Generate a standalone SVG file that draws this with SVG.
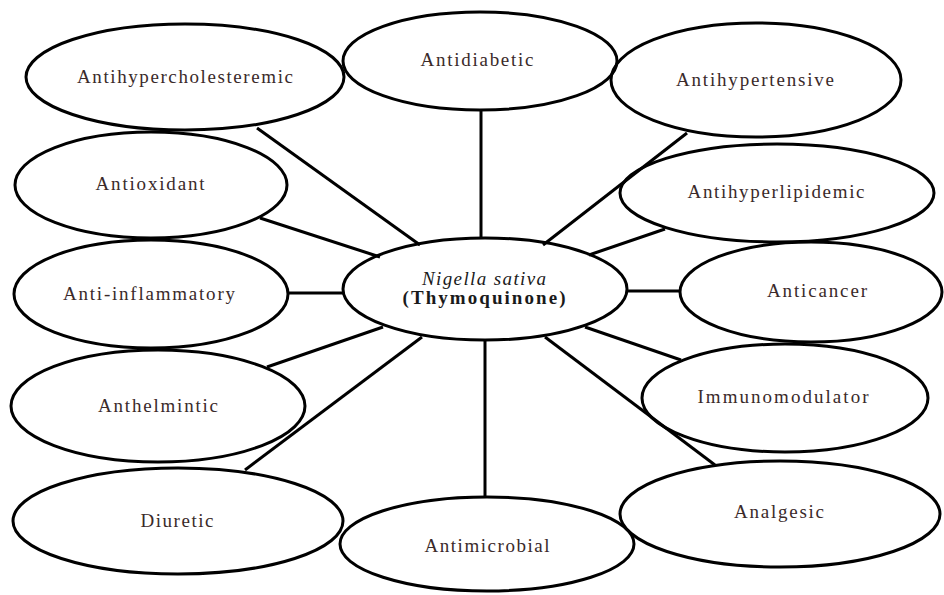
<svg xmlns="http://www.w3.org/2000/svg" width="944" height="595" viewBox="0 0 944 595">
<style>
.node ellipse{fill:none;stroke:#000;stroke-width:3}
.node text{font-family:"Liberation Serif","Times New Roman",serif;font-size:19px;fill:#3a2a2a;text-anchor:middle}
.conn line{stroke:#000;stroke-width:3;stroke-linecap:butt}
.center text{fill:#1a1a1a}
</style>
<rect width="944" height="595" fill="#fff"/>
<g id="n-antihypercholesteremic" class="node"><ellipse cx="185" cy="77" rx="159" ry="53"/><text x="185" y="83" textLength="216" lengthAdjust="spacing">Antihypercholesteremic</text></g>
<g id="n-antidiabetic" class="node"><ellipse cx="480" cy="61" rx="137" ry="49"/><text x="477" y="66" textLength="113" lengthAdjust="spacing">Antidiabetic</text></g>
<g id="n-antihypertensive" class="node"><ellipse cx="756" cy="80" rx="145" ry="57"/><text x="755" y="86" textLength="158" lengthAdjust="spacing">Antihypertensive</text></g>
<g id="n-antioxidant" class="node"><ellipse cx="151" cy="185" rx="136" ry="53"/><text x="150" y="190" textLength="109" lengthAdjust="spacing">Antioxidant</text></g>
<g id="n-antihyperlipidemic" class="node"><ellipse cx="777" cy="193" rx="157" ry="49"/><text x="776" y="198" textLength="177" lengthAdjust="spacing">Antihyperlipidemic</text></g>
<g id="n-antiinflammatory" class="node"><ellipse cx="151" cy="294" rx="137" ry="54"/><text x="149" y="300" textLength="172" lengthAdjust="spacing">Anti-inflammatory</text></g>
<g id="n-center" class="node center"><ellipse cx="485" cy="289" rx="142" ry="51"/><text x="484" y="285" font-style="italic" textLength="124" lengthAdjust="spacing">Nigella sativa</text><text x="484" y="304" font-weight="bold" textLength="163" lengthAdjust="spacing">(Thymoquinone)</text></g>
<g id="n-anticancer" class="node"><ellipse cx="811" cy="292" rx="131" ry="50"/><text x="817" y="297" textLength="100" lengthAdjust="spacing">Anticancer</text></g>
<g id="n-anthelmintic" class="node"><ellipse cx="158" cy="406" rx="147" ry="56"/><text x="158" y="412" textLength="120" lengthAdjust="spacing">Anthelmintic</text></g>
<g id="n-immunomodulator" class="node"><ellipse cx="785" cy="398" rx="143" ry="54"/><text x="783" y="403" textLength="171" lengthAdjust="spacing">Immunomodulator</text></g>
<g id="n-diuretic" class="node"><ellipse cx="178" cy="521" rx="165" ry="53"/><text x="177" y="527" textLength="73" lengthAdjust="spacing">Diuretic</text></g>
<g id="n-antimicrobial" class="node"><ellipse cx="487" cy="544" rx="147" ry="47"/><text x="487" y="552" textLength="125" lengthAdjust="spacing">Antimicrobial</text></g>
<g id="n-analgesic" class="node"><ellipse cx="780" cy="514" rx="160" ry="53"/><text x="779" y="518" textLength="90" lengthAdjust="spacing">Analgesic</text></g>
<g id="connectors" class="conn">
<line x1="257" y1="128" x2="420" y2="245"/>
<line x1="481" y1="110" x2="481" y2="238"/>
<line x1="687" y1="133" x2="543" y2="245"/>
<line x1="260" y1="218" x2="380" y2="257"/>
<line x1="665" y1="229" x2="589" y2="255"/>
<line x1="288" y1="293" x2="343" y2="293"/>
<line x1="627" y1="291" x2="680" y2="291"/>
<line x1="267" y1="367" x2="383" y2="327"/>
<line x1="585" y1="327" x2="681" y2="360"/>
<line x1="245" y1="470" x2="422" y2="337"/>
<line x1="485" y1="340" x2="485" y2="497"/>
<line x1="545" y1="337" x2="715" y2="465"/>
</g>
</svg>
